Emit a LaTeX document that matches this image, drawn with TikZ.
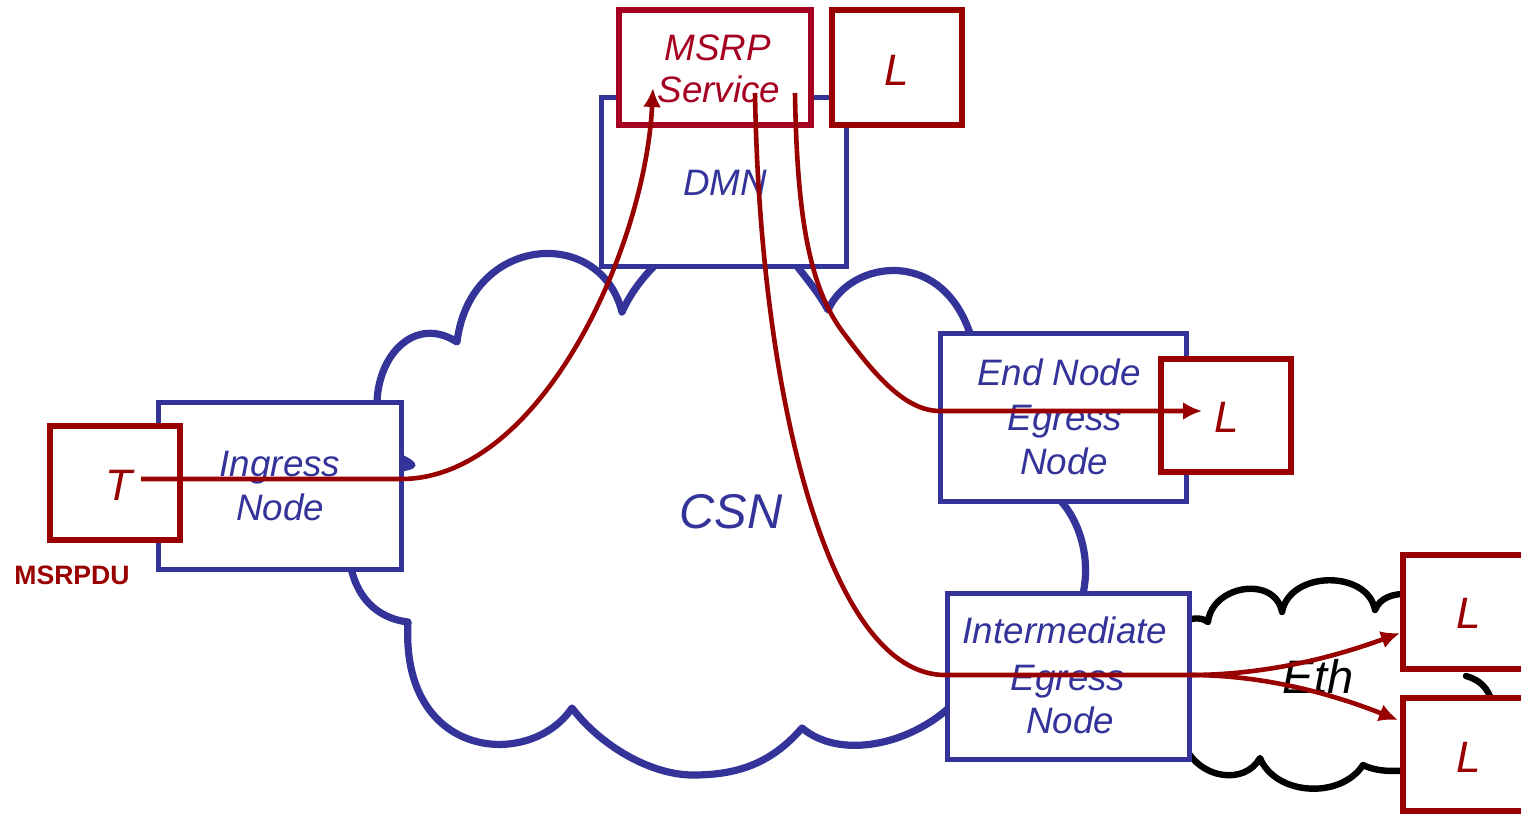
\documentclass[tikz,border=0pt]{standalone}
\usepackage{fontspec}
\setmainfont{Liberation Sans}
\usetikzlibrary{arrows.meta}
\definecolor{nblue}{HTML}{333399}
\definecolor{nred}{HTML}{990000}
\definecolor{ncrim}{HTML}{A50021}
\begin{document}
\begin{tikzpicture}[x=0.5pt,y=-0.5pt,
  cloudline/.style={draw=nblue, line width=3.6pt, line join=round, line cap=round},
  ethline/.style={draw=black, line width=3.2pt, line join=round, line cap=round},
  bluebox/.style={rectangle, draw=nblue, fill=white, line width=2.5pt, inner sep=0pt},
  redbox/.style={rectangle, draw=nred, fill=white, line width=2.8pt, inner sep=0pt},
  crimbox/.style={redbox, draw=ncrim},
  btxt/.style={text=nblue, font=\fontsize{18.4}{22}\selectfont\itshape, anchor=base, inner sep=0pt},
  ctxt/.style={btxt, text=ncrim},
  ltxt/.style={text=nred, font=\fontsize{22}{26}\selectfont\itshape, anchor=base, inner sep=0pt},
  flow/.style={draw=nred, line width=2.3pt},
  flowarrow/.style={-{Latex[length=9.5pt,width=9pt]}}
]
\clip (0,0) rectangle (1521,814);
\fill[white] (0,0) rectangle (1521,814);

% CSN cloud (visible parts)
\draw[cloudline] (377,405) .. controls (377,355) and (415,315) .. (457,342)
  .. controls (470,235) and (600,225) .. (622,312)
  .. controls (632,290) and (645,275) .. (660,260);
\draw[cloudline] (792,260) .. controls (808,280) and (820,295) .. (828,310)
  .. controls (850,260) and (945,245) .. (972,340);
\draw[cloudline] (1058,498) .. controls (1080,520) and (1092,560) .. (1082,598);
\draw[cloudline] (952,705) .. controls (910,745) and (840,760) .. (802,728)
  .. controls (770,765) and (735,775) .. (693,775)
  .. controls (650,775) and (600,745) .. (572,708)
  .. controls (530,770) and (400,760) .. (408,622)
  .. controls (375,618) and (355,595) .. (350,562);
\draw[cloudline] (396,456) .. controls (404,459) and (409,462) .. (412,465)
  .. controls (408,467) and (402,468) .. (396,469);

% Eth cloud (visible parts)
\draw[ethline] (1184,621) .. controls (1195,617) and (1203,618) .. (1208,622)
  .. controls (1212,585) and (1275,575) .. (1282,612)
  .. controls (1290,570) and (1368,570) .. (1375,610)
  .. controls (1380,598) and (1392,593) .. (1410,594);
\draw[ethline] (1410,770) .. controls (1390,772) and (1375,771) .. (1363,765)
  .. controls (1340,800) and (1275,795) .. (1260,758)
  .. controls (1245,785) and (1200,780) .. (1184,745);
\draw[ethline] (1466,676) .. controls (1480,680) and (1488,688) .. (1492,702);

% boxes
\node[bluebox, minimum width=122.5pt, minimum height=84.5pt] (dmn) at (723.5,181.5) {};
\node[crimbox, minimum width=96pt, minimum height=57.5pt] (msrp) at (715,67.5) {};
\node[redbox, minimum width=65pt, minimum height=57.5pt] (ltop) at (897,67.5) {};
\node[bluebox, minimum width=121.5pt, minimum height=83.5pt] (ingress) at (279.5,485.5) {};
\node[redbox, minimum width=65pt, minimum height=56.75pt] (tbox) at (115,483) {};
\node[bluebox, minimum width=123pt, minimum height=84pt] (endn) at (1063,417) {};
\node[redbox, minimum width=65pt, minimum height=56.5pt] (lmid) at (1226,415.5) {};
\node[bluebox, minimum width=121pt, minimum height=83pt] (inter) at (1068,676) {};
\node[redbox, minimum width=65pt, minimum height=57pt] (lone) at (1468,612) {};
\node[redbox, minimum width=65pt, minimum height=56.5pt] (ltwo) at (1468,754.5) {};

% texts
\node[ctxt] (msrp1) at (717.5,60) {MSRP};
\node[ctxt] (msrp2) at (719,102) {Service};
\node[ltxt] (ltopt) at (897,85) {L};
\node[btxt] (dmnt) at (725,195) {DMN};
\node[btxt] (ing1) at (280,476) {Ingress};
\node[btxt] (ing2) at (280,520) {Node};
\node[ltxt] (tt) at (119,500) {T};
\node[text=nred, font=\fontsize{13.3}{16}\selectfont\bfseries, anchor=base, inner sep=0pt] (pdu) at (72,584) {MSRPDU};
\node[btxt] (end1) at (1059,385) {End Node};
\node[btxt] (end2) at (1065,430) {Egress};
\node[btxt] (end3) at (1064,474) {Node};
\node[ltxt] (lmidt) at (1227,432) {L};
\node[btxt, font=\fontsize{24.4}{28}\selectfont\itshape] (csn) at (731,528) {CSN};
\node[btxt] (int1) at (1065,643) {Intermediate};
\node[btxt] (int2) at (1068,690) {Egress};
\node[btxt] (int3) at (1070,733) {Node};
\node[text=black, font=\fontsize{23.5}{28}\selectfont\itshape, anchor=base, inner sep=0pt] (eth) at (1318,693) {Eth};
\node[ltxt] (lonet) at (1469,628) {L};
\node[ltxt] (ltwot) at (1469,772) {L};

% connector end points
\coordinate (t-out) at (141,479);
\coordinate (msrp-in) at (653,88);
\coordinate (msrp-out1) at (755,93);
\coordinate (msrp-out2) at (795,93);
\coordinate (lend-in) at (1202,411);
\coordinate (eg-split) at (1190,675);
\coordinate (lone-in) at (1400,633);
\coordinate (ltwo-in) at (1398,720);

% flows
\draw[flow, flowarrow] (t-out) -- (401,479) .. controls (540,479) and (645,250) .. (msrp-in);
\draw[flow] (msrp-out1) .. controls (760,400) and (830,675) .. (945,675) -- (eg-split);
\draw[flow, flowarrow] (eg-split) .. controls (1270,675) and (1340,655) .. (lone-in);
\draw[flow, flowarrow] (eg-split) .. controls (1270,675) and (1340,697) .. (ltwo-in);
\draw[flow, flowarrow] (msrp-out2) .. controls (797,220) and (810,290) .. (845,335)
  .. controls (875,375) and (905,411) .. (940,411) -- (lend-in);
\end{tikzpicture}
\end{document}
